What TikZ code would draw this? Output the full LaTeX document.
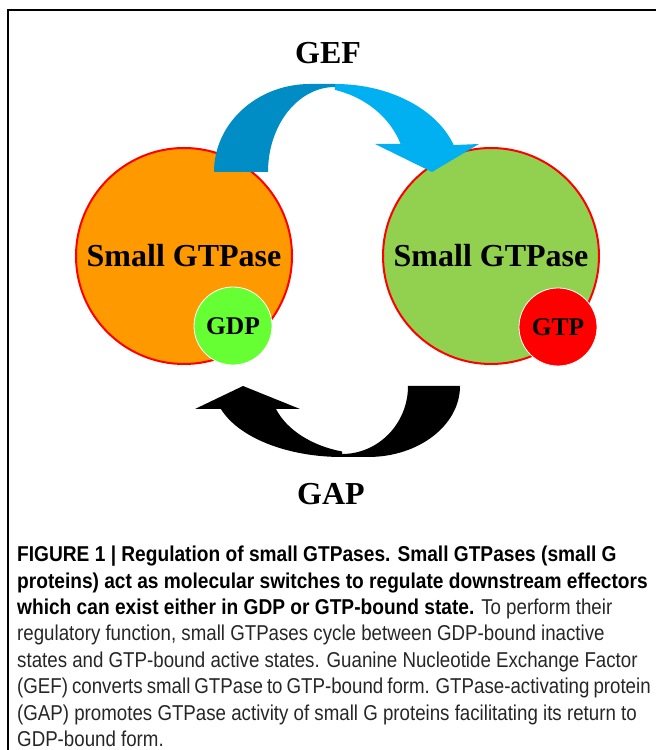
\documentclass[tikz,border=0pt]{standalone}
\usepackage{fontspec}
\setmainfont{Liberation Serif}
\newfontfamily\capfont{Liberation Sans}[FakeStretch=0.87]
\newfontfamily\capboldfont{Liberation Sans Bold}[FakeStretch=0.89]
\usetikzlibrary{positioning}

\definecolor{gtpaseorange}{HTML}{FF9900}
\definecolor{gtpasegreen}{HTML}{92D050}
\definecolor{gdpgreen}{HTML}{66FF33}
\definecolor{gefdark}{HTML}{008DC5}
\definecolor{geflight}{HTML}{00B0F0}
\definecolor{captiongray}{HTML}{262626}

\tikzset{
  bigstate/.style={circle, draw=red, line width=2pt, minimum size=216pt,
    inner sep=0pt, font=\fontsize{32}{32}\selectfont\bfseries},
  nucleotide/.style={circle, draw=white, line width=0.8pt, minimum size=78pt,
    inner sep=0pt, font=\fontsize{25.5}{25.5}\selectfont\bfseries},
  enzyme/.style={font=\fontsize{32}{32}\selectfont\bfseries},
  captext/.style={anchor=base west, align=left, inner sep=0pt,
    text=captiongray, font=\capfont\fontsize{21.5}{26.4}\selectfont},
}
\newcommand{\capbold}[1]{{\color{black}\capboldfont #1}}

\begin{document}
\begin{tikzpicture}[x=1pt,y=1pt]
\useasboundingbox (0,0) rectangle (656,750);

% frame
\draw[line width=1.5pt] (8,0) -- (8,740) -- (660,740);

% the two states
\node[bigstate, fill=gtpaseorange] (inactive) at (184,494) {Small GTPase};
\node[bigstate, fill=gtpasegreen] (active) at (491,494) {Small GTPase};
\node[nucleotide, fill=gdpgreen] (gdp) at (233,424) {GDP};
\node[nucleotide, fill=red] (gtp) at (558,423) {GTP};

% GEF arrow
\fill[geflight] (335,666) arc[start angle=90, end angle=18.3, x radius=125, y radius=89]
  -- (479,606) -- (432,578) -- (375,606) -- (400.6,606)
  arc[start angle=19.2, end angle=74.9, x radius=96, y radius=85] -- cycle;
\fill[gefdark] (214,578) arc[start angle=180, end angle=90, x radius=96, y radius=88]
  -- (335,666) -- (335,663)
  arc[start angle=90, end angle=180, x radius=67, y radius=85] -- cycle;
\node[enzyme] (gef) at (328,697) {GEF};

% GAP arrow
\fill[black] (460,364) arc[start angle=0, end angle=-90, x radius=92, y radius=71]
  -- (342,293) -- (342,296)
  arc[start angle=-90, end angle=0, x radius=66, y radius=68] -- cycle;
\fill[black] (342,293) arc[start angle=270, end angle=198.9, x radius=128, y radius=71]
  -- (195,341) -- (243,364) -- (300,341) -- (276,341)
  arc[start angle=199.8, end angle=254.6, x radius=97.8, y radius=68] -- cycle;
\node[enzyme] (gap) at (331,256) {GAP};

% caption (base = last line)
\node[captext] (caption) at (17,3.5) {%
\capbold{FIGURE 1 | Regulation of small GTPases. Small GTPases (small G}\\
\capbold{proteins) act as molecular switches to regulate downstream effectors}\\
\capbold{which can exist either in GDP or GTP-bound state.} To perform their\\
regulatory function, small GTPases cycle between GDP-bound inactive\\
states and GTP-bound active states. Guanine Nucleotide Exchange Factor\\
{\spaceskip=4pt\relax (GEF) converts small GTPase to GTP-bound form. GTPase-activating protein}\\
(GAP) promotes GTPase activity of small G proteins facilitating its return to\\
GDP-bound form.};
\end{tikzpicture}
\end{document}
